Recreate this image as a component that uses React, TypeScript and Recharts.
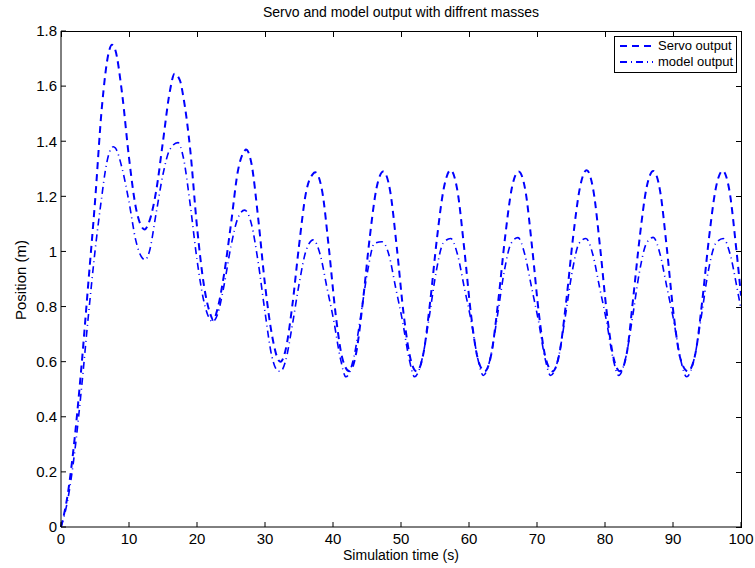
import { LineChart, Line, XAxis, YAxis } from 'recharts'

// (seconds / metres)
const servoTime = [
  0, 1, 2, 3, 4, 5, 6, 7, 7.5, 8, 9, 10, 11, 12, 12.3, 13, 14, 15, 16, 16.7, 17.5, 18, 19, 20, 21, 22, 22.4,
  23, 24, 25, 26, 27, 27.2, 28, 29, 30, 31, 32, 32.3, 33, 34, 35, 36, 37, 37.4,
  38.4, 39.4, 40.4, 41.4, 42.4, 43.4, 44.4, 45.4, 46.4, 47.4,
  48.4, 49.4, 50.4, 51.4, 52.3, 53.3, 54.3, 55.3, 56.3, 57.3,
  58.3, 59.3, 60.3, 61.3, 62.3, 63.3, 64.3, 65.3, 66.3, 67.3,
  68.3, 69.3, 70.3, 71.3, 72.3, 73.3, 74.3, 75.3, 76.3, 77.3,
  78.3, 79.3, 80.3, 81.3, 82.2, 83.2, 84.1, 85.1, 86.1, 87.1,
  88.1, 89.1, 90.1, 91.1, 92.2, 93.3, 94.3, 95.3, 96.3, 97.3,
  98.3, 99.3, 100,
]
const servoPos = [
  0, 0.12, 0.32, 0.58, 0.88, 1.18, 1.52, 1.72, 1.75, 1.73, 1.57, 1.34, 1.16, 1.085, 1.08, 1.11, 1.22, 1.4, 1.58, 1.645, 1.62, 1.56, 1.37, 1.09, 0.88, 0.77, 0.75,
  0.79, 0.92, 1.1, 1.29, 1.365, 1.37, 1.32, 1.12, 0.88, 0.7, 0.605, 0.6, 0.64, 0.8, 1.02, 1.21, 1.28, 1.287,
  1.22, 1.01, 0.77, 0.61, 0.565, 0.63, 0.82, 1.05, 1.23, 1.29,
  1.22, 1.01, 0.77, 0.61, 0.565, 0.63, 0.82, 1.05, 1.23, 1.295,
  1.22, 1.01, 0.77, 0.61, 0.565, 0.63, 0.82, 1.05, 1.23, 1.29,
  1.22, 1.01, 0.77, 0.61, 0.565, 0.63, 0.82, 1.05, 1.23, 1.295,
  1.22, 1.01, 0.77, 0.61, 0.565, 0.63, 0.82, 1.05, 1.23, 1.292,
  1.22, 1.01, 0.77, 0.61, 0.565, 0.63, 0.82, 1.05, 1.23, 1.293,
  1.22, 1.01, 0.84,
]

const modelTime = [
  0, 1, 2, 3, 4, 5, 6, 6.5, 7, 7.7, 8, 9, 10, 11, 12, 12.4, 13, 14, 15, 16, 17.2, 18, 19, 20, 21, 22, 22.3,
  23, 24, 25, 26, 27, 28, 29, 30, 31, 32, 32.3, 33, 34, 35, 36, 37.1,
  38.1, 39.1, 40.1, 41.1, 41.9, 43.1, 44.1, 45.1, 46.1, 47.2,
  48.2, 49.2, 50.2, 51.2, 52, 53.2, 54.2, 55.2, 56.2, 57.3,
  58.3, 59.3, 60.3, 61.3, 62.1, 63.2, 64.2, 65.2, 66.2, 67.2,
  68.2, 69.2, 70.2, 71.2, 72, 73.2, 74.2, 75.2, 76.2, 77.2,
  78.2, 79.2, 80.2, 81.2, 82, 83.1, 84.1, 85.1, 86.1, 87.1,
  88.1, 89.1, 90.1, 91.1, 92, 93.2, 94.2, 95.2, 96.3, 97.4,
  98.4, 99.4, 100,
]
const modelPos = [
  0, 0.1, 0.27, 0.5, 0.76, 1.0, 1.2, 1.29, 1.35, 1.38, 1.375, 1.3, 1.18, 1.04, 0.975, 0.97, 1.0, 1.14, 1.28, 1.37, 1.395, 1.34, 1.17, 0.97, 0.82, 0.75, 0.745,
  0.77, 0.88, 1.02, 1.12, 1.15, 1.1, 0.96, 0.78, 0.62, 0.565, 0.565, 0.6, 0.73, 0.88, 1.0, 1.042,
  0.99, 0.87, 0.75, 0.61, 0.545, 0.62, 0.77, 0.93, 1.03, 1.035,
  0.99, 0.87, 0.75, 0.61, 0.545, 0.62, 0.77, 0.93, 1.03, 1.047,
  0.99, 0.87, 0.75, 0.61, 0.55, 0.62, 0.77, 0.93, 1.03, 1.05,
  0.99, 0.87, 0.75, 0.61, 0.55, 0.62, 0.77, 0.93, 1.03, 1.047,
  0.99, 0.87, 0.75, 0.61, 0.55, 0.62, 0.77, 0.93, 1.03, 1.051,
  0.99, 0.87, 0.75, 0.61, 0.545, 0.62, 0.77, 0.93, 1.03, 1.047,
  0.99, 0.87, 0.79,
]

const xTicks = [0, 10, 20, 30, 40, 50, 60, 70, 80, 90, 100]
const yTicks = [0, 0.2, 0.4, 0.6, 0.8, 1, 1.2, 1.4, 1.6, 1.8]

const servoData = servoTime.map((t, i) => ({ t, pos: servoPos[i] }))
const modelData = modelTime.map((t, i) => ({ t, pos: modelPos[i] }))

const font = 'Liberation Sans, Arial, Helvetica, sans-serif'
const blue = '#0000ff'
const servoDash = '7 5'
const modelDash = '7 4 1 4'

// chart geometry
const W = 755
const H = 568
const margin = { top: 31, right: 14, bottom: 21, left: 21 }
const Y_AXIS_W = 40
const X_AXIS_H = 20
const TICK = 5
const X_MAX = 100
const Y_MAX = 1.8
const plotLeft = margin.left + Y_AXIS_W
const plotRight = W - margin.right
const plotTop = margin.top
const plotBottom = H - margin.bottom - X_AXIS_H

// outline of the axes box with the inward ticks on its top and right edges
function BoxFrame() {
  const w = plotRight - plotLeft
  const h = plotBottom - plotTop
  return (
    <div
      style={{
        position: 'absolute',
        left: plotLeft,
        top: plotTop,
        width: w + 1,
        height: h + 1,
        boxSizing: 'border-box',
        borderTop: '1px solid #000',
        borderRight: '1px solid #000',
        pointerEvents: 'none',
      }}
    >
      {xTicks.map((v) => (
        <div
          key={`x${v}`}
          style={{ position: 'absolute', left: Math.round((v / X_MAX) * w), top: 0, width: 1, height: TICK, background: '#000' }}
        />
      ))}
      {yTicks.map((v) => (
        <div
          key={`y${v}`}
          style={{ position: 'absolute', right: 0, top: Math.round(h - (v / Y_MAX) * h) - 1, width: TICK, height: 1, background: '#000' }}
        />
      ))}
    </div>
  )
}

function LegendBox() {
  const rows = [
    { name: 'Servo output', dash: servoDash },
    { name: 'model output', dash: modelDash },
  ]
  return (
    <div
      style={{
        position: 'absolute',
        left: 614,
        top: 36,
        width: 123,
        height: 37,
        boxSizing: 'border-box',
        border: '1px solid #000',
        background: '#fff',
        padding: '1px 0 1px 4px',
        fontFamily: font,
        fontSize: 13,
        lineHeight: '16px',
        color: '#000',
        whiteSpace: 'nowrap',
      }}
    >
      {rows.map((r) => (
        <div key={r.name} style={{ display: 'flex', alignItems: 'center' }}>
          <svg width={35} height={10} style={{ marginRight: 4, flexShrink: 0 }}>
            <line x1={1} y1={5} x2={34} y2={5} stroke={blue} strokeWidth={2} strokeDasharray={r.dash} />
          </svg>
          <span>{r.name}</span>
        </div>
      ))}
    </div>
  )
}

export default function App() {
  const tickStyle = { fontSize: 15, fill: '#000', fontFamily: font }
  return (
    <div style={{ position: 'relative', width: W, height: H, background: '#fff' }}>
      <style>{'body{margin:0}'}</style>
      <LineChart width={W} height={H} margin={margin}>
        <XAxis
          dataKey="t"
          type="number"
          domain={[0, X_MAX]}
          ticks={xTicks}
          interval={0}
          allowDuplicatedCategory={false}
          height={X_AXIS_H}
          tickSize={-TICK}
          tickMargin={11}
          stroke="#000"
          tick={tickStyle}
        />
        <YAxis
          type="number"
          domain={[0, Y_MAX]}
          ticks={yTicks}
          interval={0}
          width={Y_AXIS_W}
          tickSize={-TICK}
          tickMargin={9}
          stroke="#000"
          tick={tickStyle}
        />
        <Line
          data={servoData}
          dataKey="pos"
          name="Servo output"
          type="monotone"
          stroke={blue}
          strokeWidth={2}
          strokeDasharray={servoDash}
          dot={false}
          isAnimationActive={false}
        />
        <Line
          data={modelData}
          dataKey="pos"
          name="model output"
          type="monotone"
          stroke={blue}
          strokeWidth={1.6}
          strokeDasharray={modelDash}
          dot={false}
          isAnimationActive={false}
        />
      </LineChart>
      <BoxFrame />
      <LegendBox />
      <div
        style={{
          position: 'absolute',
          top: 4,
          left: 0,
          width: 802,
          textAlign: 'center',
          fontFamily: font,
          fontSize: 14,
        }}
      >
        Servo and model output with diffrent masses
      </div>
      <div
        style={{
          position: 'absolute',
          top: 547,
          left: 0,
          width: 802,
          textAlign: 'center',
          fontFamily: font,
          fontSize: 14,
        }}
      >
        Simulation time (s)
      </div>
      <div
        style={{
          position: 'absolute',
          left: 20,
          top: 280,
          transform: 'translate(-50%, -50%) rotate(-90deg)',
          whiteSpace: 'nowrap',
          fontFamily: font,
          fontSize: 15,
        }}
      >
        Position (m)
      </div>
    </div>
  )
}
